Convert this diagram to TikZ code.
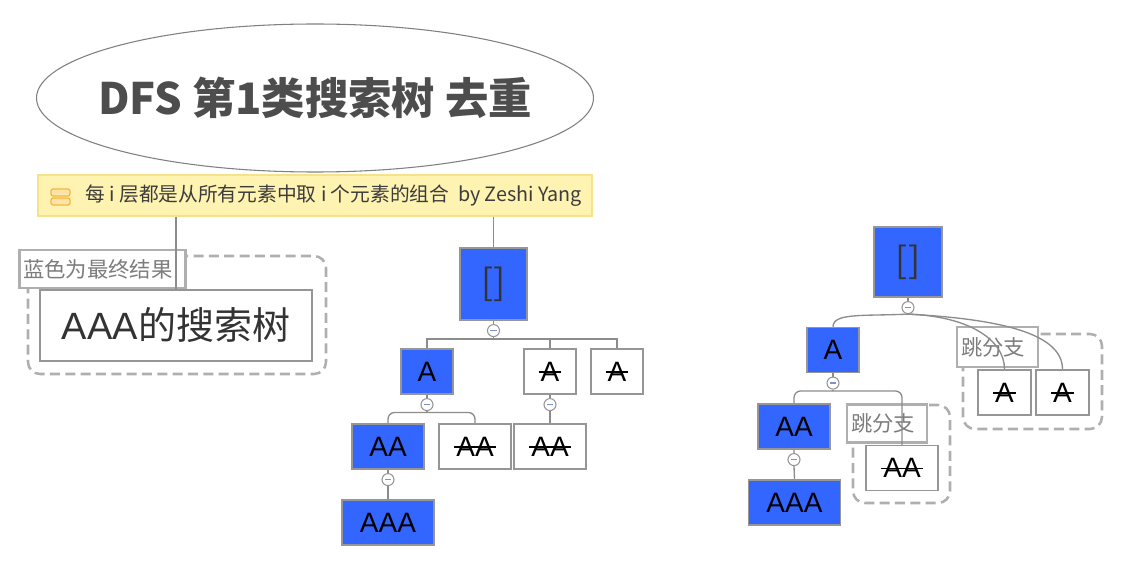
\documentclass[tikz,border=0pt]{standalone}
\usepackage{fontspec}
\setmainfont{Noto Sans CJK SC}
\newfontfamily\latinfont{Liberation Sans}
\usepackage{tikz}
\usetikzlibrary{positioning, shapes.geometric}
\definecolor{nodeblue}{RGB}{51, 102, 255}
\definecolor{boxgray}{RGB}{150, 150, 150}
\definecolor{linegray}{RGB}{140, 140, 140}
\definecolor{groupgray}{RGB}{175, 175, 175}
\definecolor{taggray}{RGB}{125, 125, 125}
\definecolor{darktext}{RGB}{51, 51, 51}
\definecolor{titlegray}{RGB}{77, 77, 77}
\definecolor{ellipsegray}{RGB}{128, 128, 128}
\definecolor{minusblue}{RGB}{125, 145, 205}
\definecolor{notefill}{RGB}{255, 243, 178}
\definecolor{noteline}{RGB}{247, 226, 140}
\definecolor{notetext}{RGB}{60, 60, 60}
\definecolor{iconline}{RGB}{246, 182, 60}
\definecolor{iconfill}{RGB}{255, 228, 170}
\newcommand\strk[1]{\setbox0=\hbox{#1}\rlap{\kern-1.5pt\raisebox{0.3em}{\rule{\dimexpr\wd0+3pt\relax}{1.1pt}}}\box0}

\begin{document}
\begin{tikzpicture}[x=0.75pt, y=-0.75pt,
    every node/.style={inner sep=0pt},
    result/.style={draw=boxgray, line width=1.1pt, fill=nodeblue,
                   minimum height=33.75pt, font=\latinfont\fontsize{21}{24}\selectfont},
    pruned/.style={result, fill=white},
    empty set/.style={result, text=darktext, font=\fontsize{27}{30}\selectfont},
    fold/.style={circle, draw=boxgray, fill=white, line width=0.8pt, minimum size=9pt,
                 path picture={\draw[minusblue, line width=1pt]
                   ([xshift=-2.3pt]path picture bounding box.center) --
                   ([xshift=2.3pt]path picture bounding box.center);}},
    branch/.style={draw=linegray, line width=1pt},
    tag/.style={draw=groupgray, line width=2.2pt, fill=white, text=taggray,
                align=left, inner xsep=3pt, font=\fontsize{16}{18}\selectfont},
    group/.style={draw=groupgray, line width=1.9pt, dash pattern=on 7.5pt off 4pt,
                  rounded corners=9pt}
]
\useasboundingbox (0,0) rectangle (1125,570);
% Title and note
\node[ellipse, draw=ellipsegray, line width=0.8pt, minimum width=417.75pt, minimum height=111pt,
      text=titlegray, font=\fontsize{32.5}{38}\selectfont\bfseries] (title) at (315,98)
    {\makebox[0pt]{DFS 第1类搜索树 去重}};
\node[draw=noteline, fill=notefill, line width=0.8pt, minimum width=415.5pt,
      minimum height=30.75pt] (banner) at (315,195.5) {};
\draw[iconline, fill=iconfill, line width=0.9pt, rounded corners=1.5pt]
    (51,189) rectangle (70,196) (51,198) rectangle (70,205);
\node[anchor=west, text=notetext, font=\fontsize{14.8}{18}\selectfont] (note) at (85,196)
    {每 i 层都是从所有元素中取 i 个元素的组合~~by Zeshi Yang};
% Legend
\draw[group] (28,256) rectangle (326,374);
\node[draw=boxgray, line width=1.1pt, fill=white, minimum width=204pt, minimum height=53.25pt,
      text=darktext, font=\fontsize{28.5}{32}\selectfont] (legend) at (176,325.5) {{\latinfont AAA}的搜索树};
\node[tag, text width=119pt, minimum height=28.5pt] (bluetag) at (102.5,269) {蓝色为最终结果};
% Middle tree
\node[empty set, minimum width=50.25pt, minimum height=54pt] (root) at (493.5,284) {[\kern0.5pt]};
\node[fold, below=2.5pt of root] (f0) {};
\node[result, minimum width=39pt] (a1) at (427,371.5) {A};
\node[pruned, minimum width=39pt] (a2) at (550,371.5) {\strk{A}};
\node[pruned, minimum width=39pt] (a3) at (617,371.5) {\strk{A}};
\node[fold, below=2.5pt of a1] (f1) {};
\node[fold, below=2.5pt of a2] (f2) {};
\node[result, minimum width=54pt] (aa1) at (388,446.5) {AA};
\node[pruned, minimum width=54pt] (aa2) at (475,446.5) {\strk{AA}};
\node[pruned, minimum width=54pt] (aa3) at (550,446.5) {\strk{AA}};
\node[fold, below=2.5pt of aa1] (f3) {};
\node[result, minimum width=69pt] (aaa) at (388,522.5) {AAA};
% Right tree
\draw[group] (963,334) rectangle (1102,429);
\draw[group] (853,405) rectangle (950,503);
\node[empty set, minimum width=51pt, minimum height=52.5pt] (rroot) at (908,262) {[\kern0.5pt]};
\node[fold, below=2.5pt of rroot] (g0) {};
\node[result, minimum width=39pt] (b1) at (833,350) {A};
\node[fold, below=2.5pt of b1] (g1) {};
\node[result, minimum width=54pt] (bb1) at (794,426.5) {AA};
\node[fold, below=2.5pt of bb1] (g2) {};
\node[result, minimum width=69pt] (bbb) at (794.5,502.5) {AAA};
\node[tag, text width=54.75pt, minimum height=30pt] (skip1) at (997.5,347) {跳分支};
\node[tag, text width=54pt, minimum height=29pt] (skip2) at (887,423.5) {跳分支};
\node[pruned, minimum width=54pt] (bb2) at (902,468) {\strk{AA}};
\node[pruned, minimum width=39.75pt] (b2) at (1004.5,392.5) {\strk{A}};
\node[pruned, minimum width=39.75pt] (b3) at (1062.5,392.5) {\strk{A}};
% Connectors
\draw[branch] (banner.south -| legend.north) -- (legend.north);
\draw[branch] (banner.south -| root.north) -- (root.north);
\coordinate (j0) at ([yshift=-1.5pt]f0.south);
\draw[branch] (root.south) -- (f0.north) (f0.south) -- (j0);
\draw[branch] (a1.north) |- (j0) -| (a3.north);
\draw[branch] (j0) -| (a2.north);
\coordinate (j1) at ([yshift=-1pt]f1.south);
\draw[branch] (a1.south) -- (f1.north) (f1.south) -- (j1);
\draw[branch, rounded corners=5pt] (aa1.north) |- (j1) -| (aa2.north);
\draw[branch] (a2.south) -- (f2.north) (f2.south) -- (aa3.north);
\draw[branch] (aa1.south) -- (f3.north) (f3.south) -- (aaa.north);
\draw[branch] (rroot.south) -- (g0.north);
\draw[branch] (g0.south) .. controls +(-45,2) and +(0,-14) .. (b1.north);
\draw[branch] (g0.south) .. controls +(60,2) and +(0,-30) .. (b2.north);
\draw[branch] (g0.south) .. controls +(95,5) and +(0,-35) .. (b3.north);
\coordinate (k1) at ([yshift=-1pt]g1.south);
\draw[branch] (b1.south) -- (g1.north) (g1.south) -- (k1);
\draw[branch, rounded corners=5pt] (bb1.north) |- (k1) -| (bb2.north);
\draw[branch] (bb1.south) -- (g2.north) (g2.south) -- (bbb.north);
\end{tikzpicture}
\end{document}
